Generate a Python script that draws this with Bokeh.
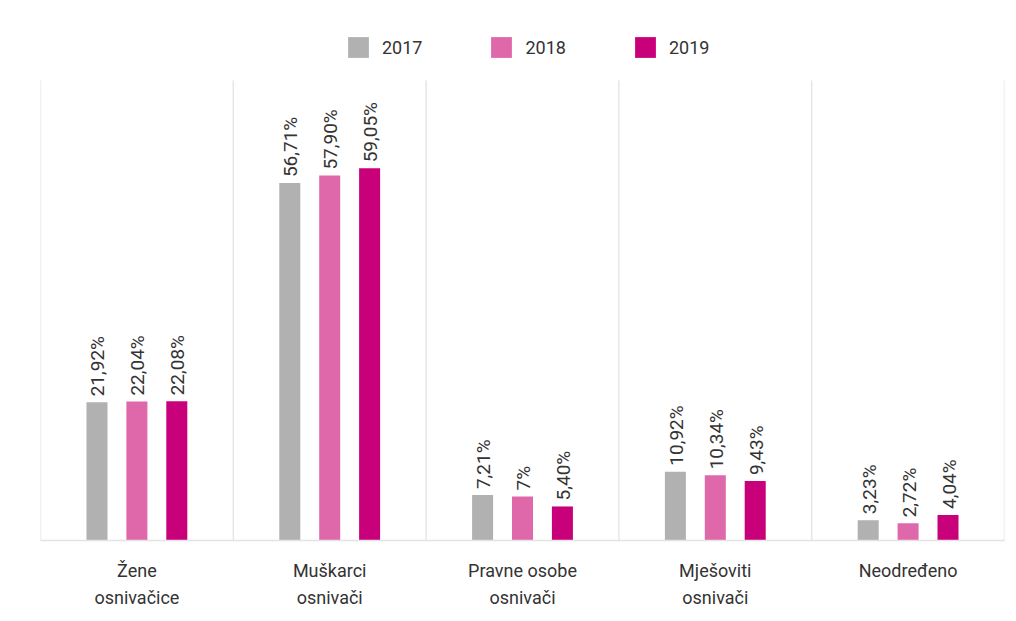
import numpy as np
from bokeh.plotting import figure
from bokeh.models import ColumnDataSource, Legend, LegendItem, FixedTicker, Range1d
from bokeh.core.properties import value
from bokeh.embed import file_html
from bokeh.resources import INLINE

categories = ["Žene\nosnivačice", "Muškarci\nosnivači", "Pravne osobe\nosnivači", "Mješoviti\nosnivači", "Neodređeno"]
years = ["2017", "2018", "2019"]
v2017 = [21.92, 56.71, 7.21, 10.92, 3.23]
v2018 = [22.04, 57.90, 7.00, 10.34, 2.72]
v2019 = [22.08, 59.05, 5.40, 9.43, 4.04]
colors = ["#b1b1b1", "#df68ab", "#c8007a"]

def fmt(v):
    s = ("%.2f" % v).replace(".", ",")
    if s.endswith(",00"):
        s = s[:-3]
    return s + "%"

FONT = "Roboto"
TXT = "#333333"
GRID_TOP = 73.0

p = figure(frame_width=964, frame_height=530, output_backend="svg", toolbar_location=None,
           x_range=Range1d(0, 5), y_range=Range1d(0, 84.1),
           min_border_left=40, min_border_right=4, min_border_top=10, min_border_bottom=70)
p.outline_line_color = None
p.background_fill_color = "white"
p.border_fill_color = "white"
p.ygrid.visible = False
p.xgrid.visible = False
p.yaxis.visible = False

bounds = list(range(len(categories) + 1))
p.segment(x0=bounds, y0=[0] * len(bounds), x1=bounds, y1=[GRID_TOP] * len(bounds),
          line_color="#e6e6e6", line_width=1.5)

offsets = [-0.207, 0.0, 0.207]
series = [v2017, v2018, v2019]
items = []
base_x = np.arange(len(categories)) + 0.5
for yr, vals, col, off in zip(years, series, colors, offsets):
    src = ColumnDataSource(dict(x=base_x + off, top=vals, lab=[fmt(v) for v in vals]))
    r = p.vbar(x="x", top="top", bottom=0, width=0.109, source=src,
               fill_color=col, line_color=None)
    p.text(x="x", y="top", text="lab", source=src, angle=np.pi / 2,
           text_align="left", text_baseline="middle", x_offset=1, y_offset=-6,
           text_font=value(FONT), text_font_size="19px", text_color=TXT)
    items.append(LegendItem(label=yr, renderers=[r]))

legend = Legend(items=items, orientation="horizontal", location=(305, 480),
                glyph_width=26, glyph_height=26, label_standoff=11, spacing=66,
                margin=0, padding=0, border_line_color=None,
                background_fill_alpha=0,
                label_text_font=FONT, label_text_font_size="18px", label_text_color=TXT)
p.add_layout(legend, "center")

ax = p.xaxis[0]
ax.ticker = FixedTicker(ticks=list(base_x))
ax.major_label_overrides = {float(x): c for x, c in zip(base_x, categories)}
ax.major_tick_line_color = None
ax.minor_tick_line_color = None
ax.axis_line_color = "#e3e3e3"
ax.axis_line_width = 1.5
ax.major_label_standoff = 13
ax.major_label_text_font = FONT
ax.major_label_text_font_size = "18px"
ax.major_label_text_color = TXT
ax.major_label_text_line_height = 1.3

open("out.html", "w").write(file_html(p, INLINE))
